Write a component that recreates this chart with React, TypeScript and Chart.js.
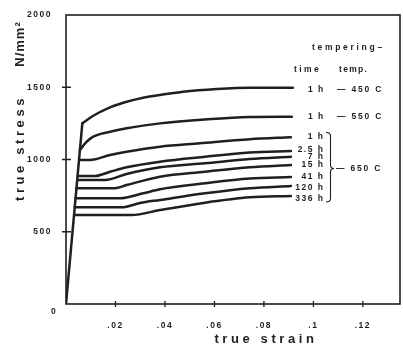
import React, { useEffect, useRef } from 'react';
import { Chart, registerables } from 'chart.js';

Chart.register(...registerables);

// ---- data (true strain / true stress, N/mm²) ----
const seriesNames = ['450 C 1 h', '550 C 1 h', '650 C 1 h', '650 C 2.5 h', '650 C 7 h', '650 C 15 h', '650 C 41 h', '650 C 120 h', '650 C 336 h'];

// common elastic loading line
const elasticStrain = [0, 0.0066];
const elasticStress = [0, 1250];

const strain450 = [0.0066, 0.0110, 0.0178, 0.0245, 0.0312, 0.0380, 0.0473, 0.0610, 0.0743, 0.0917];
const stress450 = [1250, 1303, 1361, 1400, 1428, 1446, 1469, 1488, 1497, 1496];

const strain550 = [0.0056, 0.0084, 0.0110, 0.0178, 0.0245, 0.0380, 0.0562, 0.0743, 0.0913];
const stress550 = [1066, 1123, 1158, 1192, 1216, 1250, 1277, 1294, 1296];

const strain650_1 = [0.0053, 0.0097, 0.0178, 0.0245, 0.0380, 0.0541, 0.0743, 0.0909];
const stress650_1 = [997, 997, 1031, 1054, 1089, 1112, 1140, 1154];

const strain650_2_5 = [0.0047, 0.0117, 0.0178, 0.0245, 0.0380, 0.0562, 0.0743, 0.0909];
const stress650_2_5 = [886, 886, 915, 946, 985, 1019, 1048, 1059];

const strain650_7 = [0.0045, 0.0158, 0.0245, 0.0380, 0.0562, 0.0743, 0.0909];
const stress650_7 = [858, 858, 900, 946, 974, 1003, 1019];

const strain650_15 = [0.0042, 0.0198, 0.0245, 0.0380, 0.0562, 0.0743, 0.0909];
const stress650_15 = [801, 801, 823, 881, 915, 946, 962];

const strain650_41 = [0.0039, 0.0218, 0.0312, 0.0380, 0.0562, 0.0743, 0.0909];
const stress650_41 = [731, 731, 766, 794, 835, 868, 879];

const strain650_120 = [0.0035, 0.0225, 0.0299, 0.0380, 0.0562, 0.0743, 0.0909];
const stress650_120 = [669, 669, 699, 720, 766, 801, 817];

const strain650_336 = [0.0033, 0.0265, 0.0380, 0.0562, 0.0743, 0.0909];
const stress650_336 = [616, 616, 650, 701, 738, 747];

const strainSeries = [strain450, strain550, strain650_1, strain650_2_5, strain650_7, strain650_15, strain650_41, strain650_120, strain650_336];
const stressSeries = [stress450, stress550, stress650_1, stress650_2_5, stress650_7, stress650_15, stress650_41, stress650_120, stress650_336];

const xMin = 0;
const xMax = 0.135;
const xStep = 0.02;
const yMin = 0;
const yMax = 2000;
const yStep = 500;

const timeLabels650 = ['1 h', '2.5 h', '7 h', '15 h', '41 h', '120 h', '336 h'];

const INK = '#1f1f1f';
const FAMILY = '"Liberation Sans", Arial, sans-serif';

function txt(ctx: CanvasRenderingContext2D, s: string, x: number, y: number, size: number, spacing: number, align: CanvasTextAlign = 'left') {
  ctx.font = `bold ${size}px ${FAMILY}`;
  (ctx as any).letterSpacing = `${spacing}px`;
  ctx.textAlign = align;
  ctx.textBaseline = 'middle';
  ctx.fillStyle = INK;
  ctx.fillText(s, x, y);
}

const decorPlugin = {
  id: 'decor',
  beforeDraw(chart: any) {
    (chart.ctx as any).letterSpacing = '1.5px';
  },
  afterDraw(chart: any) {
    const { ctx, chartArea: a, scales } = chart;
    const xs = scales.x;
    const ys = scales.y;
    ctx.save();
    (ctx as any).letterSpacing = '0px';
    ctx.strokeStyle = INK;
    ctx.lineWidth = 1.6;
    ctx.strokeRect(a.left, a.top, a.right - a.left, a.bottom - a.top);
    ctx.lineWidth = 1.3;
    ctx.beginPath();
    ys.ticks.forEach((t: any) => {
      if (t.value === 0 || t.value === yMax) return;
      const py = ys.getPixelForValue(t.value);
      ctx.moveTo(a.left - 4, py);
      ctx.lineTo(a.left + 5, py);
    });
    xs.ticks.forEach((t: any) => {
      if (t.value === 0) return;
      const px = xs.getPixelForValue(t.value);
      ctx.moveTo(px, a.bottom - 3);
      ctx.lineTo(px, a.bottom + 3);
    });
    ctx.stroke();

    // origin label
    txt(ctx, '0', a.left - 12, a.bottom + 8, 8.5, 1.5, 'center');

    // axis titles
    txt(ctx, 'true strain', 266, 339, 13, 3.6, 'center');
    ctx.save();
    ctx.translate(20, 148);
    ctx.rotate(-Math.PI / 2);
    txt(ctx, 'true stress', 0, 0, 13, 3.6, 'center');
    ctx.restore();
    ctx.save();
    ctx.translate(20, 44);
    ctx.rotate(-Math.PI / 2);
    txt(ctx, 'N/mm²', 0, 0, 13, 1, 'center');
    ctx.restore();

    // legend annotations
    txt(ctx, 'tempering–', 312, 48, 8.5, 2.7);
    txt(ctx, 'time', 294, 70, 8.5, 2.4);
    txt(ctx, 'temp.', 339, 70, 8.5, 1.3);
    txt(ctx, '1 h', 308, 89.5, 8.5, 1.5);
    txt(ctx, '— 450 C', 337, 89.5, 8.5, 1.8);
    txt(ctx, '1 h', 308, 117, 8.5, 1.5);
    txt(ctx, '— 550 C', 337, 117, 8.5, 1.8);
    const ys650 = [136.7, 149.3, 156.7, 164.3, 176.7, 187.7, 198.3];
    timeLabels650.forEach((l, i) => txt(ctx, l, 324.5, ys650[i], 8.5, 1.5, 'right'));
    txt(ctx, '— 650 C', 336, 168.5, 8.5, 1.8);

    // brace
    ctx.lineWidth = 1.1;
    ctx.beginPath();
    ctx.moveTo(326, 132.5);
    ctx.quadraticCurveTo(330.5, 132.5, 330.5, 136);
    ctx.lineTo(330.5, 165);
    ctx.quadraticCurveTo(330.5, 168.5, 334, 168.5);
    ctx.quadraticCurveTo(330.5, 168.5, 330.5, 172);
    ctx.lineTo(330.5, 198.5);
    ctx.quadraticCurveTo(330.5, 202, 326, 202);
    ctx.stroke();
    ctx.restore();
  },
};

export default function App() {
  const ref = useRef<HTMLCanvasElement | null>(null);

  useEffect(() => {
    if (!ref.current) return;
    const lineStyle = {
      borderColor: INK,
      backgroundColor: INK,
      borderWidth: 2.5,
      pointRadius: 0,
      borderCapStyle: 'round' as const,
      borderJoinStyle: 'round' as const,
      fill: false,
    };
    const plastic = strainSeries.map((sx, i) => ({
      ...lineStyle,
      label: seriesNames[i],
      data: sx.map((x, j) => ({ x, y: stressSeries[i][j] })),
      cubicInterpolationMode: 'monotone' as const,
    }));
    const elastic = {
      ...lineStyle,
      label: 'elastic',
      data: elasticStrain.map((x, j) => ({ x, y: elasticStress[j] })),
      tension: 0,
    };

    const tickFont = { family: FAMILY, size: 8.5, weight: 'bold' as const };
    const chart = new Chart(ref.current, {
      type: 'line',
      data: { datasets: [elastic, ...plastic] as any },
      options: {
        animation: false,
        responsive: false,
        maintainAspectRatio: false,
        devicePixelRatio: 1,
        layout: { padding: { top: 15, right: 3, left: 0, bottom: 0 } },
        plugins: { legend: { display: false }, tooltip: { enabled: false } },
        scales: {
          x: {
            type: 'linear',
            min: xMin,
            max: xMax,
            grid: { display: false },
            border: { display: false },
            ticks: {
              stepSize: xStep,
              includeBounds: false,
              padding: 9,
              color: INK,
              font: tickFont,
              maxRotation: 0,
              callback: (v: any) => (Number(v) === 0 ? '' : Number(Number(v).toFixed(3)).toString().replace(/^0\./, '.')),
            },
            afterFit: (s: any) => { s.height = 50; },
          },
          y: {
            type: 'linear',
            min: yMin,
            max: yMax,
            grid: { display: false },
            border: { display: false },
            ticks: {
              stepSize: yStep,
              padding: 6,
              color: INK,
              font: tickFont,
              callback: (v: any) => (Number(v) === 0 ? '' : String(v)),
            },
            afterFit: (s: any) => { s.width = 66; },
          },
        },
      },
      plugins: [decorPlugin],
    });
    return () => chart.destroy();
  }, []);

  return (
    <div style={{ position: 'fixed', left: 0, top: 0, width: 403, height: 354, background: '#fff' }}>
      <canvas ref={ref} width={403} height={354} style={{ display: 'block', width: 403, height: 354 }} />
    </div>
  );
}
